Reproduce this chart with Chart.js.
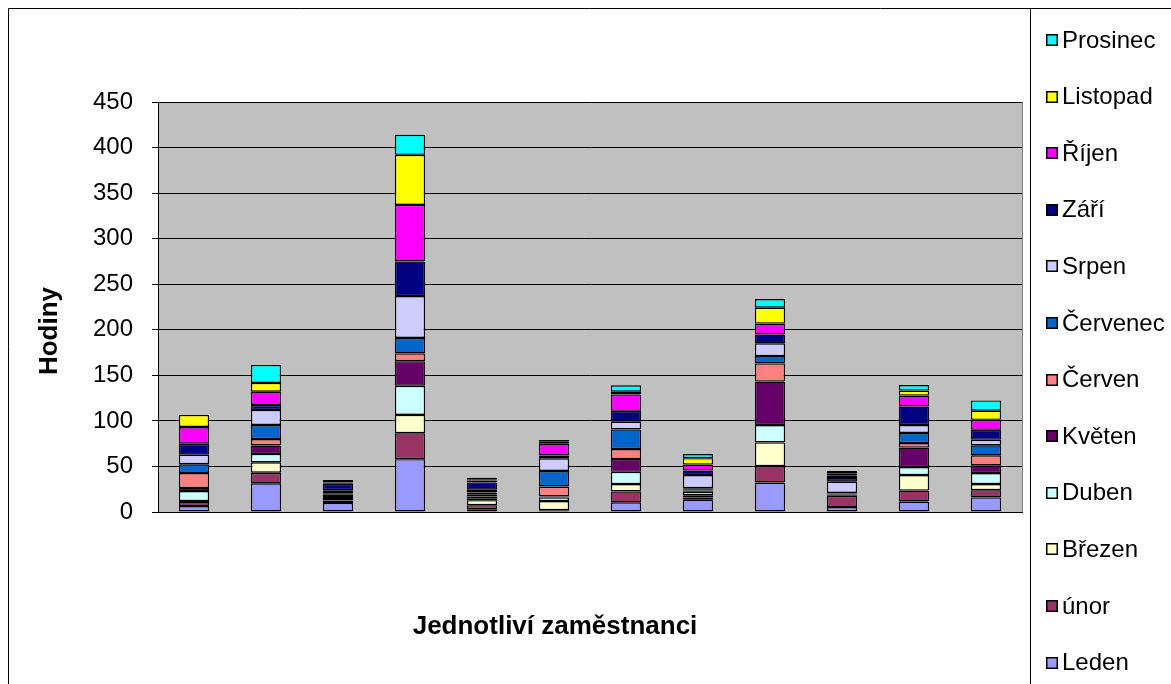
<!DOCTYPE html>
<html lang="cs">
<head>
<meta charset="utf-8">
<title>Hodiny zaměstnanců po měsících</title>
<script src="https://cdn.jsdelivr.net/npm/chart.js@4.4.1/dist/chart.umd.min.js"></script>
<style>
  html, body { margin: 0; padding: 0; background: #fff; }
  canvas { display: block; }
</style>
</head>
<body>
<canvas id="chart" width="1171" height="684"></canvas>
<script>
// Jednotliví zaměstnanci (bez jmen na ose)
const employees = ['Z1', 'Z2', 'Z3', 'Z4', 'Z5', 'Z6', 'Z7', 'Z8', 'Z9', 'Z10', 'Z11', 'Z12'];

// Odpracované hodiny po měsících
const leden    = [6.6, 31.5, 10, 58, 3, 1, 10.6, 13.5, 32.4, 5.5, 11.5, 16];
const unor     = [4.4, 11.6, 2.5, 28.5, 4.5, 1, 12, 2.5, 18, 12.3, 12, 8];
const brezen   = [1, 11.4, 3, 20, 5.5, 10, 8, 2.5, 26, 0.8, 17, 6.7];
const duben    = [11, 9.2, 2, 32, 2, 4, 13.5, 3.8, 19, 0.6, 8.8, 12];
const kveten   = [3.3, 9.3, 1.5, 27, 2, 1, 14, 1.3, 47.7, 0.6, 21.4, 8.5];
const cerven   = [16.5, 7, 1.5, 8.5, 2, 11, 11, 1.3, 20, 0.5, 5, 11];
const cervenec = [9.6, 15.5, 1.5, 17, 2.5, 17, 21.5, 1.3, 8, 0.6, 11, 11];
const srpen    = [10.5, 16.5, 2, 46, 3, 14, 8.5, 14.3, 14, 12.4, 8.8, 6];
const zari     = [12, 5.5, 7, 38, 8, 3, 12, 5, 9.7, 4, 20.3, 11];
const rijen    = [18.4, 14.6, 1.5, 62, 2, 13, 18, 6.6, 12, 3, 12, 11];
const listopad = [13.2, 9.6, 1.5, 55, 1.5, 2, 3, 7, 17.5, 2.2, 5.5, 10];
const prosinec = [0, 19.7, 1, 22, 1.5, 2, 7, 4.5, 9.5, 2.5, 6, 11.3];

const monthNames = ['Leden', 'únor', 'Březen', 'Duben', 'Květen', 'Červen',
                    'Červenec', 'Srpen', 'Září', 'Říjen', 'Listopad', 'Prosinec'];
const monthValues = [leden, unor, brezen, duben, kveten, cerven,
                     cervenec, srpen, zari, rijen, listopad, prosinec];
const monthColors = ['#9999FF', '#993366', '#FFFFCC', '#CCFFFF', '#660066', '#FF8080',
                     '#0066CC', '#CCCCFF', '#000080', '#FF00FF', '#FFFF00', '#00FFFF'];

const yTicks = [0, 50, 100, 150, 200, 250, 300, 350, 400, 450];

const FONT = "'Liberation Sans', Arial, sans-serif";

// Rámečky, pozadí plochy grafu, popisky os a legenda
const frame = {
  id: 'frame',
  beforeDraw(chart) {
    const { ctx, chartArea: a } = chart;
    ctx.save();
    ctx.fillStyle = '#fff';
    ctx.fillRect(0, 0, chart.width, chart.height);
    ctx.fillStyle = '#C0C0C0';
    ctx.fillRect(a.left, a.top, a.right - a.left, a.bottom - a.top);
    ctx.strokeStyle = '#000';
    ctx.lineWidth = 1;
    ctx.beginPath();
    ctx.moveTo(8.5, chart.height);
    ctx.lineTo(8.5, 8.5);
    ctx.lineTo(chart.width, 8.5);
    ctx.moveTo(1030.5, 8.5);
    ctx.lineTo(1030.5, chart.height);
    ctx.stroke();
    ctx.restore();
  },
  beforeDatasetsDraw(chart) {
    const { ctx, chartArea: a } = chart;
    ctx.save();
    ctx.strokeStyle = '#808080';
    ctx.lineWidth = 1;
    ctx.beginPath();
    ctx.moveTo(Math.round(a.right) + 0.5, a.top);
    ctx.lineTo(Math.round(a.right) + 0.5, a.bottom);
    ctx.stroke();
    ctx.restore();
  },
  afterDraw(chart) {
    const { ctx } = chart;
    ctx.save();
    ctx.fillStyle = '#000';
    ctx.font = `bold 26px ${FONT}`;
    ctx.textAlign = 'center';
    ctx.textBaseline = 'middle';
    ctx.fillText('Jednotliví zaměstnanci', 555, 627);
    ctx.translate(50, 331);
    ctx.rotate(-Math.PI / 2);
    ctx.fillText('Hodiny', 0, 0);
    ctx.restore();

    // legenda: od posledního měsíce nahoře
    ctx.save();
    ctx.font = `24px ${FONT}`;
    ctx.textAlign = 'left';
    ctx.textBaseline = 'middle';
    const ds = chart.data.datasets;
    for (let k = 0; k < ds.length; k++) {
      const d = ds[ds.length - 1 - k];
      const cy = 40 + k * 56.6;
      ctx.fillStyle = '#000';
      ctx.fillRect(1046, Math.round(cy - 6), 12, 12);
      ctx.fillStyle = d.backgroundColor;
      ctx.fillRect(1047.5, Math.round(cy - 6) + 1.5, 9, 9);
      ctx.fillStyle = '#000';
      ctx.fillText(d.label, 1062, cy + 1);
    }
    ctx.restore();
  }
};

const datasets = monthNames.map((name, i) => ({
  label: name,
  data: monthValues[i],
  backgroundColor: monthColors[i],
  borderColor: '#000',
  borderWidth: 1.4,
  borderSkipped: false,
  categoryPercentage: 1,
  barPercentage: 0.42
}));

new Chart(document.getElementById('chart'), {
  type: 'bar',
  data: { labels: employees, datasets },
  plugins: [frame],
  options: {
    responsive: false,
    animation: false,
    layout: { padding: { top: 102, right: 149, bottom: 0, left: 0 } },
    plugins: {
      legend: { display: false },
      tooltip: { enabled: false }
    },
    scales: {
      x: {
        stacked: true,
        grid: { display: false },
        ticks: { display: false },
        border: { display: true, color: '#000', width: 1 },
        afterFit(scale) { scale.height = 172; }
      },
      y: {
        stacked: true,
        min: 0,
        max: 450,
        afterBuildTicks(scale) { scale.ticks = yTicks.map(v => ({ value: v })); },
        ticks: {
          color: '#000',
          font: { family: FONT, size: 24 },
          padding: 19
        },
        grid: { color: '#000', lineWidth: 1, tickLength: 6, drawTicks: true },
        border: { display: true, color: '#000', width: 1 },
        afterFit(scale) { scale.width = 158; }
      }
    }
  }
});
</script>
</body>
</html>
